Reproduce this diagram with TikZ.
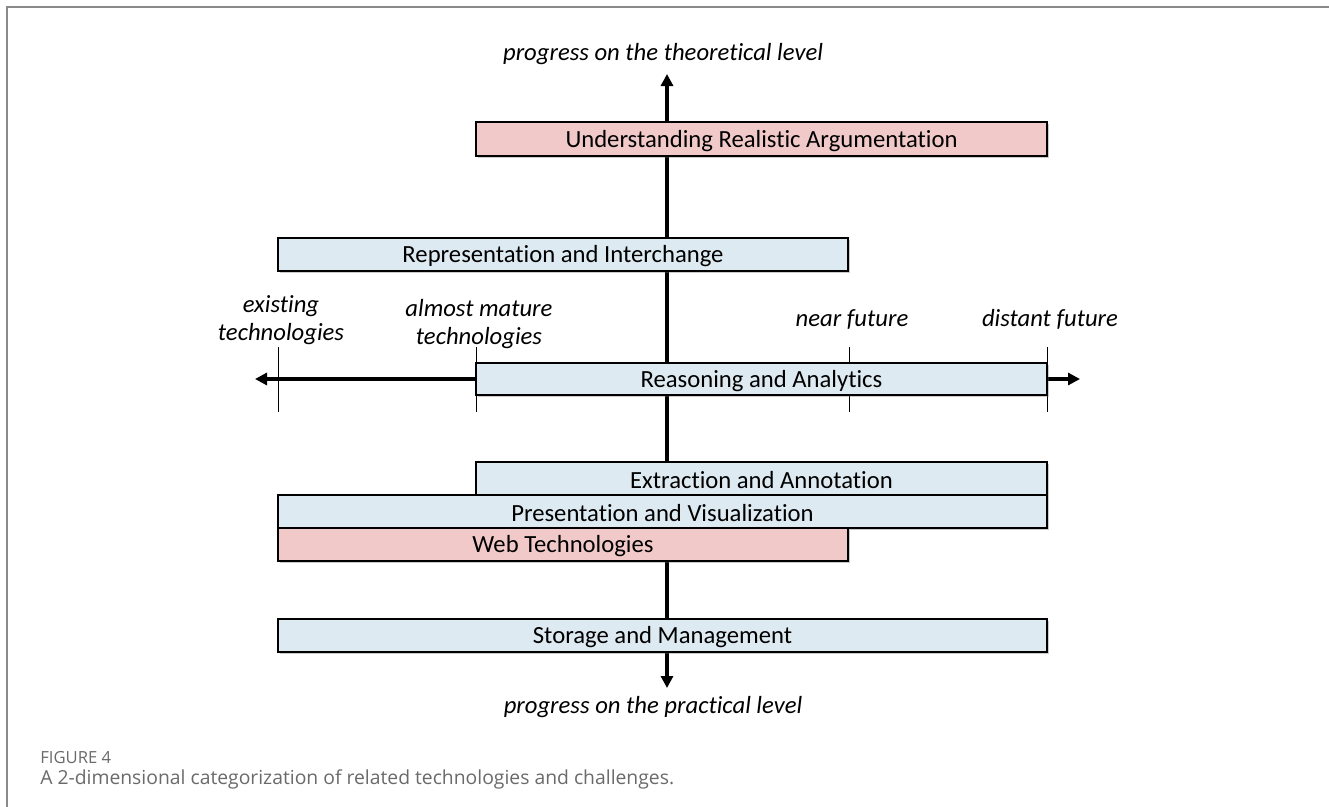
\documentclass[tikz,border=0pt]{standalone}
\usepackage{fontspec}
\setmainfont{Carlito}[Ligatures=NoCommon]
\newfontfamily\captionfont{Open Sans}
\usetikzlibrary{arrows.meta,shadows}

\definecolor{bandpink}{HTML}{F2C9C9}
\definecolor{bandblue}{HTML}{DEEAF1}
\definecolor{framegray}{HTML}{8A8A8A}
\definecolor{captiongray}{HTML}{6A6A6A}

\tikzset{
	band/.style={draw=black, line width=2.2pt,
		drop shadow={shadow xshift=1.5pt, shadow yshift=-1.5pt, opacity=0.35, fill=black!60}},
	bandtext/.style={font=\fontsize{18.5}{21}\selectfont, inner sep=0pt, yshift=-1.5pt},
	axis/.style={line width=2.6pt, {Triangle[length=9pt,width=9pt]}-{Triangle[length=9pt,width=9pt]}},
	tickline/.style={line width=0.7pt},
	levellabel/.style={font=\fontsize{18.5}{21}\selectfont\itshape, align=center},
}

\begin{document}
\begin{tikzpicture}[x=0.75pt, y=-0.75pt]
			\useasboundingbox (0,0) rectangle (1329,807);
			
			%%%%% FRAME %%%%%
			\draw[framegray, line width=1.5pt] (7,807) -- (7,7) -- (1329,7);
			
			%%%%% AXES %%%%%
			\coordinate (theo) at (667,74);
			\coordinate (prac) at (667,688);
			\coordinate (past) at (255,379);
			\coordinate (future) at (1080,379);
			
			\draw[axis] (prac) -- (theo);
			\draw[axis] (past) -- (future);
			
			\foreach \x in {278,476,849,1047}
				\draw[tickline] (\x,347) -- (\x,412);
			
			\node[levellabel] (theolabel) at (663,54) {progress on the theoretical level};
			\node[levellabel] (praclabel) at (653,707) {progress on the practical\ level};
			
			\node[levellabel] (existing) at (281,320) {existing\\technologies};
			\node[levellabel] (mature) at (479,324) {almost mature\\technologies};
			\node[levellabel] (near) at (852,319) {near future};
			\node[levellabel] (distant) at (1050,319) {distant future};
			
			%%%%% BANDS %%%%%
			\draw[band, fill=bandpink] (476,122) rectangle (1047,156)
				node[bandtext, midway] (argu) {Understanding Realistic Argumentation};
			
			\draw[band, fill=bandblue] (278,238) rectangle (848,271)
				node[bandtext, midway] (repr) {Representation and Interchange};
			
			\draw[band, fill=bandblue] (476,363) rectangle (1047,395)
				node[bandtext, midway] (reas) {Reasoning and Analytics};
			
			\draw[band, fill=bandblue] (476,462) rectangle (1047,495)
				node[bandtext, midway] (extr) {Extraction and Annotation};
			\draw[band, fill=bandblue] (278,495) rectangle (1047,528)
				node[bandtext, midway] (pres) {Presentation and Visualization};
			\draw[band, fill=bandpink] (278,528) rectangle (848,561)
				node[bandtext, midway] (web) {Web Technologies};
			
			\draw[band, fill=bandblue] (278,619) rectangle (1047,652)
				node[bandtext, midway] (stor) {Storage and Management};
			
			%%%%% CAPTION %%%%%
			\node[anchor=west, inner sep=0pt, captiongray, font=\captionfont\fontsize{12.5}{14}\selectfont] (fignum) at (40,758) {FIGURE 4};
			\node[anchor=west, inner sep=0pt, captiongray, font=\captionfont\fontsize{14.5}{17}\selectfont] (figcap) at (40,779) {A 2-dimensional categorization of related technologies and challenges.};
		\end{tikzpicture}
\end{document}
